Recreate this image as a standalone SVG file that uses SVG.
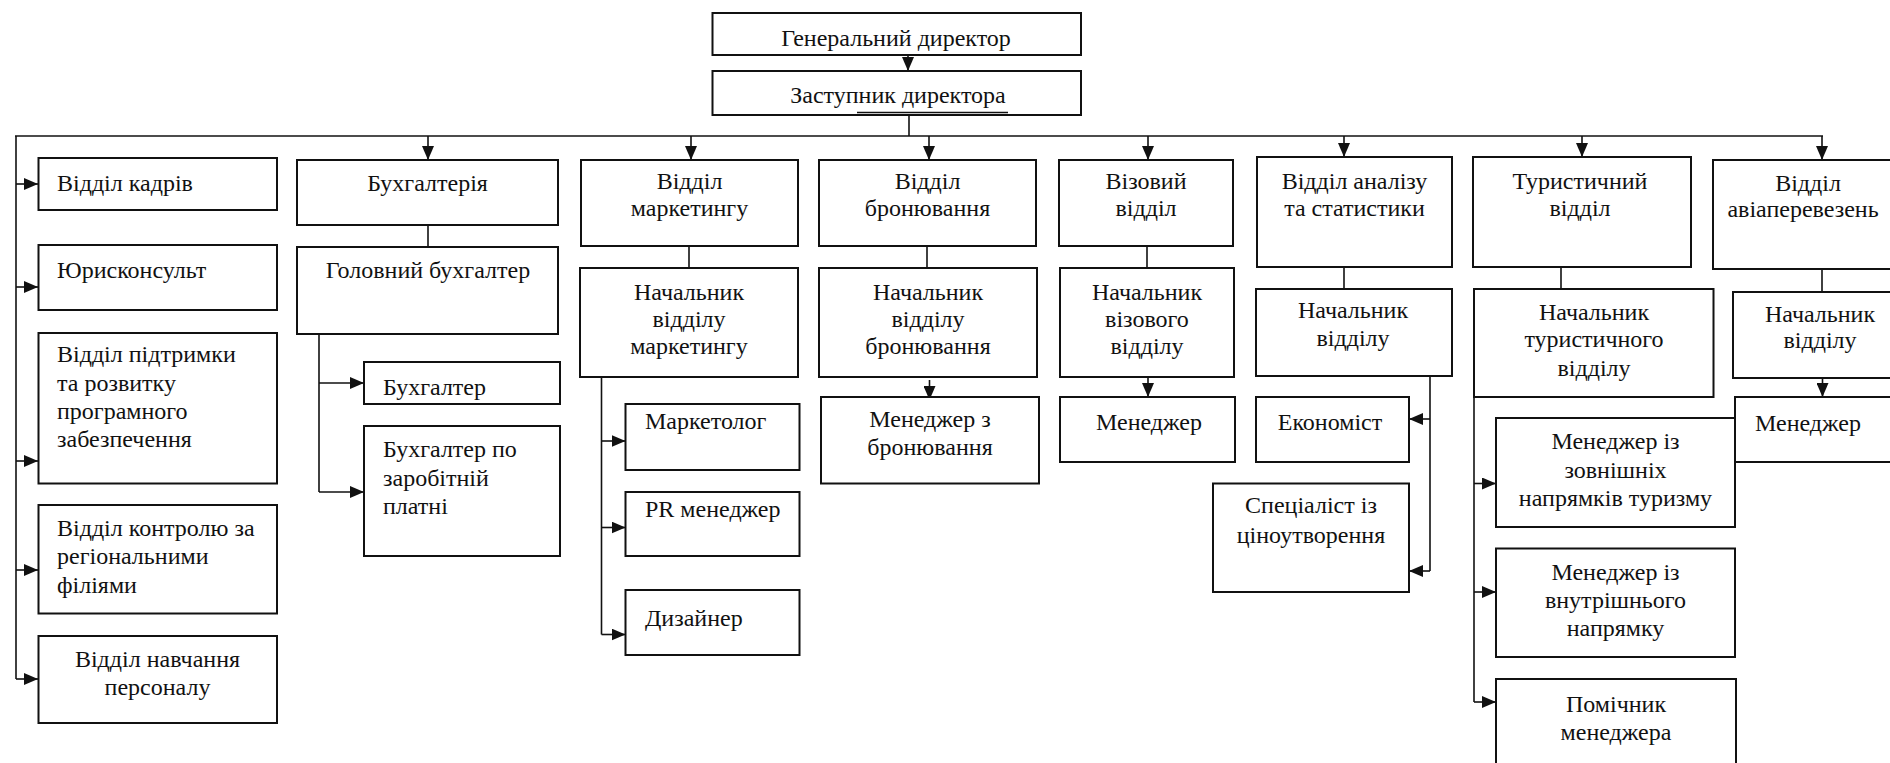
<svg xmlns="http://www.w3.org/2000/svg" width="1890" height="763" viewBox="0 0 1890 763">
<style>
.box{fill:#fff;stroke:#111;stroke-width:2}
.t{font-family:"Liberation Serif","Times New Roman",serif;font-size:24px;fill:#111}
.c{text-anchor:middle}
.ln{stroke:#111;stroke-width:1.6;fill:none}
.ar{stroke:#111;stroke-width:1.6;fill:none;marker-end:url(#ah)}
</style>
<defs>
<marker id="ah" markerUnits="userSpaceOnUse" markerWidth="15" markerHeight="12" refX="14" refY="6" orient="auto">
<path d="M0,0 L14,6 L0,12 z" fill="#111"/>
</marker>
</defs>
<rect width="1890" height="763" fill="#fff"/>

<g id="connectors">
<line class="ar" x1="908" y1="55" x2="908" y2="71"/>
<line class="ln" x1="909" y1="115" x2="909" y2="136"/>
<line class="ln" x1="15" y1="136" x2="1823" y2="136"/>
<line class="ln" x1="16" y1="136" x2="16" y2="679"/>
<line class="ar" x1="16" y1="184" x2="38" y2="184"/>
<line class="ar" x1="16" y1="287" x2="38" y2="287"/>
<line class="ar" x1="16" y1="461" x2="38" y2="461"/>
<line class="ar" x1="16" y1="570" x2="38" y2="570"/>
<line class="ar" x1="16" y1="679" x2="38" y2="679"/>
<line class="ar" x1="428" y1="136" x2="428" y2="160"/>
<line class="ar" x1="691" y1="136" x2="691" y2="160"/>
<line class="ar" x1="929" y1="136" x2="929" y2="160"/>
<line class="ar" x1="1148" y1="136" x2="1148" y2="160"/>
<line class="ar" x1="1344" y1="136" x2="1344" y2="157"/>
<line class="ar" x1="1582" y1="136" x2="1582" y2="157"/>
<line class="ar" x1="1822" y1="136" x2="1822" y2="160"/>
<line class="ln" x1="428" y1="225" x2="428" y2="247"/>
<line class="ln" x1="689" y1="246" x2="689" y2="268"/>
<line class="ln" x1="927" y1="246" x2="927" y2="268"/>
<line class="ln" x1="1147" y1="246" x2="1147" y2="268"/>
<line class="ln" x1="1344" y1="267" x2="1344" y2="289"/>
<line class="ln" x1="1561" y1="267" x2="1561" y2="289"/>
<line class="ln" x1="1822" y1="269" x2="1822" y2="292"/>
<line class="ln" x1="319" y1="334" x2="319" y2="492"/>
<line class="ar" x1="319" y1="383" x2="364" y2="383"/>
<line class="ar" x1="319" y1="492" x2="364" y2="492"/>
<line class="ln" x1="601.5" y1="377" x2="601.5" y2="634.5"/>
<line class="ar" x1="601.5" y1="441" x2="625.5" y2="441"/>
<line class="ar" x1="601.5" y1="527.5" x2="625.5" y2="527.5"/>
<line class="ar" x1="601.5" y1="634.5" x2="625.5" y2="634.5"/>
<line class="ar" x1="929.5" y1="380" x2="929.5" y2="400"/>
<line class="ar" x1="1148" y1="376" x2="1148" y2="397"/>
<line class="ln" x1="1430" y1="376" x2="1430" y2="571"/>
<line class="ar" x1="1430" y1="419" x2="1409" y2="419"/>
<line class="ar" x1="1430" y1="571" x2="1409" y2="571"/>
<line class="ln" x1="1474" y1="397" x2="1474" y2="702"/>
<line class="ar" x1="1474" y1="483.5" x2="1496" y2="483.5"/>
<line class="ar" x1="1474" y1="592" x2="1496" y2="592"/>
<line class="ar" x1="1474" y1="702" x2="1496" y2="702"/>
<line class="ar" x1="1822.5" y1="376" x2="1822.5" y2="397"/>
</g>

<g id="gen"><rect class="box" x="712.5" y="13" width="368.5" height="42"/><text class="t c" x="896" y="46">Генеральний директор</text></g>
<g id="zast"><rect class="box" x="712.5" y="71" width="368.5" height="44"/><line class="ln" x1="857" y1="112.5" x2="1008" y2="112.5"/><text class="t c" x="898" y="103">Заступник директора</text></g>

<g id="kadry"><rect class="box" x="38.5" y="158" width="238.5" height="52"/><text class="t" x="57" y="191">Відділ кадрів</text></g>
<g id="yurist"><rect class="box" x="38.5" y="245" width="238.5" height="65"/><text class="t" x="57" y="278">Юрисконсульт</text></g>
<g id="pidtrymka"><rect class="box" x="38.5" y="333" width="238.5" height="150.5"/><text class="t" x="57" y="362">Відділ підтримки</text><text class="t" x="57" y="391">та розвитку</text><text class="t" x="57" y="419">програмного</text><text class="t" x="57" y="447">забезпечення</text></g>
<g id="kontrol"><rect class="box" x="38.5" y="505" width="238.5" height="108.5"/><text class="t" x="57" y="536">Відділ контролю за</text><text class="t" x="57" y="564">регіональними</text><text class="t" x="57" y="593">філіями</text></g>
<g id="navchannya"><rect class="box" x="38.5" y="636" width="238.5" height="87"/><text class="t c" x="157.5" y="667">Відділ навчання</text><text class="t c" x="157.5" y="695">персоналу</text></g>

<g id="buh"><rect class="box" x="297" y="160" width="261" height="65"/><text class="t c" x="427.5" y="191">Бухгалтерія</text></g>
<g id="golbuh"><rect class="box" x="297" y="247" width="261" height="87"/><text class="t c" x="428" y="278">Головний бухгалтер</text></g>
<g id="buhgalter"><rect class="box" x="364" y="362" width="196" height="42"/><text class="t" x="383" y="395">Бухгалтер</text></g>
<g id="buhzp"><rect class="box" x="364" y="426" width="196" height="130"/><text class="t" x="383" y="457">Бухгалтер по</text><text class="t" x="383" y="486">заробітній</text><text class="t" x="383" y="514">платні</text></g>

<g id="mark"><rect class="box" x="581" y="160" width="217" height="86"/><text class="t c" x="689.5" y="189">Відділ</text><text class="t c" x="689.5" y="216">маркетингу</text></g>
<g id="nachmark"><rect class="box" x="580" y="268" width="218" height="109"/><text class="t c" x="689" y="300">Начальник</text><text class="t c" x="689" y="327">відділу</text><text class="t c" x="689" y="354">маркетингу</text></g>
<g id="marketolog"><rect class="box" x="625.5" y="404" width="174" height="66"/><text class="t" x="645" y="429">Маркетолог</text></g>
<g id="pr"><rect class="box" x="625.5" y="492" width="174" height="64"/><text class="t" x="645" y="517">PR менеджер</text></g>
<g id="dyzainer"><rect class="box" x="625.5" y="590" width="174" height="65"/><text class="t" x="645" y="626">Дизайнер</text></g>

<g id="bron"><rect class="box" x="819" y="160" width="217" height="86"/><text class="t c" x="927.5" y="189">Відділ</text><text class="t c" x="927.5" y="216">бронювання</text></g>
<g id="nachbron"><rect class="box" x="819" y="268" width="218" height="109"/><text class="t c" x="928" y="300">Начальник</text><text class="t c" x="928" y="327">відділу</text><text class="t c" x="928" y="354">бронювання</text></g>
<g id="menbron"><rect class="box" x="821" y="397" width="218" height="86.5"/><text class="t c" x="930" y="427">Менеджер з</text><text class="t c" x="930" y="455">бронювання</text></g>

<g id="viza"><rect class="box" x="1059" y="160" width="174" height="86"/><text class="t c" x="1146" y="189">Візовий</text><text class="t c" x="1146" y="216">відділ</text></g>
<g id="nachviza"><rect class="box" x="1060" y="268" width="174" height="109"/><text class="t c" x="1147" y="300">Начальник</text><text class="t c" x="1147" y="327">візового</text><text class="t c" x="1147" y="354">відділу</text></g>
<g id="menviza"><rect class="box" x="1060" y="397" width="175" height="65"/><text class="t c" x="1149" y="430">Менеджер</text></g>

<g id="analiz"><rect class="box" x="1257" y="157" width="195" height="110"/><text class="t c" x="1354.5" y="189">Відділ аналізу</text><text class="t c" x="1354.5" y="216">та статистики</text></g>
<g id="nachanaliz"><rect class="box" x="1256" y="289" width="196" height="87"/><text class="t c" x="1353" y="318">Начальник</text><text class="t c" x="1353" y="346">відділу</text></g>
<g id="ekonomist"><rect class="box" x="1256" y="397" width="153" height="65"/><text class="t c" x="1330" y="430">Економіст</text></g>
<g id="specialist"><rect class="box" x="1213" y="483.5" width="196" height="108.5"/><text class="t c" x="1311" y="513">Спеціаліст із</text><text class="t c" x="1311" y="543">ціноутворення</text></g>

<g id="turyst"><rect class="box" x="1473" y="157" width="218" height="110"/><text class="t c" x="1580" y="189">Туристичний</text><text class="t c" x="1580" y="216">відділ</text></g>
<g id="nachturyst"><rect class="box" x="1474" y="289" width="239.5" height="108"/><text class="t c" x="1594" y="320">Начальник</text><text class="t c" x="1594" y="347">туристичного</text><text class="t c" x="1594" y="376">відділу</text></g>
<g id="menzovn"><rect class="box" x="1496" y="418" width="239" height="109"/><text class="t c" x="1615.5" y="449">Менеджер із</text><text class="t c" x="1615.5" y="478">зовнішніх</text><text class="t c" x="1615.5" y="506">напрямків туризму</text></g>
<g id="menvnutr"><rect class="box" x="1496" y="548.5" width="239" height="108.5"/><text class="t c" x="1615.5" y="580">Менеджер із</text><text class="t c" x="1615.5" y="608">внутрішнього</text><text class="t c" x="1615.5" y="636">напрямку</text></g>
<g id="pomichnyk"><rect class="box" x="1496" y="679" width="240" height="110"/><text class="t c" x="1616" y="712">Помічник</text><text class="t c" x="1616" y="740">менеджера</text></g>

<g id="avia"><rect class="box" x="1713" y="160" width="195" height="109"/><text class="t c" x="1808" y="191">Відділ</text><text class="t c" x="1803" y="217">авіаперевезень</text></g>
<g id="nachavia"><rect class="box" x="1733" y="292" width="175" height="86"/><text class="t c" x="1820" y="322">Начальник</text><text class="t c" x="1820" y="348">відділу</text></g>
<g id="menavia"><rect class="box" x="1735" y="397" width="173" height="65"/><text class="t" x="1755" y="431">Менеджер</text></g>
</svg>
